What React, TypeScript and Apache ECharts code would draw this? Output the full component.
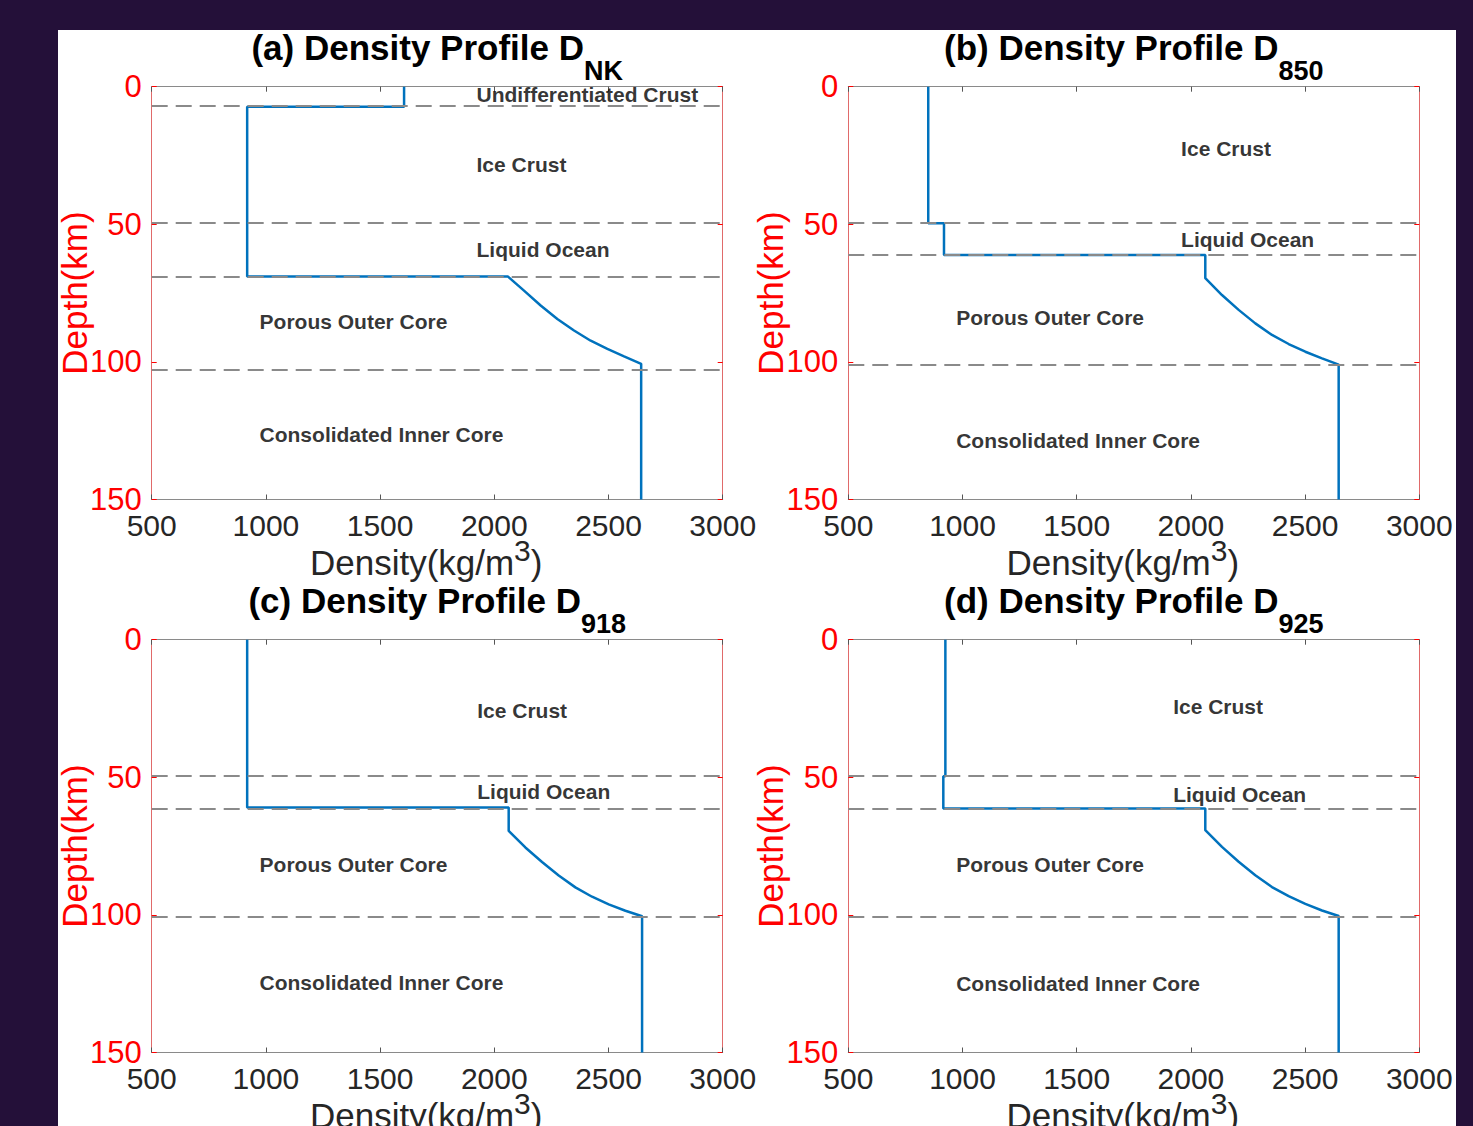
import React, { useEffect, useRef } from "react";
import * as echarts from "echarts";

// ---------- data ----------
const densityMin = 500;
const densityMax = 3000;
const densityStep = 500;
const depthMin = 0;
const depthMax = 150;
const depthStep = 50;

const panelTitles = ["(a) Density Profile D", "(b) Density Profile D", "(c) Density Profile D", "(d) Density Profile D"];
const panelSubscripts = ["NK", "850", "918", "925"];

// (a) D_NK
const depthNK = [0, 7.3, 7.3, 69, 69, 74.1, 79.5, 84.4, 88.6, 92.3, 95.3, 98.0, 100.7, 150];
const densityNK = [1605, 1605, 918, 918, 2060, 2130, 2203, 2276, 2349, 2422, 2495, 2568, 2643, 2643];
const boundariesNK = [7, 49.6, 69.2, 102.8];
const labelsNK = ["Undifferentiated Crust", "Ice Crust", "Liquid Ocean", "Porous Outer Core", "Consolidated Inner Core"];
const labelDensityNK = [1920, 1920, 1920, 970, 970];
const labelDepthNK = [3.0, 28.1, 59.3, 85.2, 126.2];

// (b) D_850
const depth850 = [0, 49.6, 49.6, 61.2, 61.2, 69.6, 75.7, 81.1, 86.0, 90.2, 93.5, 96.3, 98.7, 101.0, 150];
const density850 = [850, 850, 919, 919, 2063, 2063, 2136, 2209, 2282, 2355, 2428, 2501, 2574, 2647, 2647];
const boundaries850 = [49.5, 61.2, 101.1];
const labels850 = ["Ice Crust", "Liquid Ocean", "Porous Outer Core", "Consolidated Inner Core"];
const labelDensity850 = [1955, 1955, 970, 970];
const labelDepth850 = [22.5, 55.6, 83.9, 128.5];

// (c) D_918
const depth918 = [0, 61.0, 61.0, 69.5, 75.5, 80.8, 85.7, 90.0, 93.4, 96.2, 98.5, 100.5, 150];
const density918 = [918, 918, 2063, 2063, 2136, 2209, 2282, 2355, 2428, 2501, 2574, 2647, 2647];
const boundaries918 = [49.4, 61.4, 100.5];
const labels918 = ["Ice Crust", "Liquid Ocean", "Porous Outer Core", "Consolidated Inner Core"];
const labelDensity918 = [1923, 1923, 970, 970];
const labelDepth918 = [25.9, 55.3, 81.8, 124.4];

// (d) D_925
const depth925 = [0, 49.6, 49.6, 61.3, 61.3, 69.2, 75.3, 80.7, 85.6, 89.9, 93.2, 96.0, 98.4, 100.4, 150];
const density925 = [925, 925, 916, 916, 2063, 2063, 2136, 2209, 2282, 2355, 2428, 2501, 2574, 2647, 2647];
const boundaries925 = [49.5, 61.3, 100.5];
const labels925 = ["Ice Crust", "Liquid Ocean", "Porous Outer Core", "Consolidated Inner Core"];
const labelDensity925 = [1920, 1920, 970, 970];
const labelDepth925 = [24.3, 56.2, 81.8, 125.0];

// ---------- layout / style ----------
const FONT = "'Liberation Sans', Arial, Helvetica, sans-serif";
const gridLefts = [151.7, 848.3, 151.7, 848.3];
const gridTops = [86.7, 86.7, 639.7, 639.7];
const GW = 571;
const GH = 412.8;
const BLUE = "#0072BD";
const RED = "#ff0000";
const GRAY = "#8a8a8a";

export default function App() {
  const ref = useRef<HTMLDivElement>(null);

  useEffect(() => {
    if (!ref.current) return;
    const chart = echarts.init(ref.current, null, { renderer: "svg" });

    const panels = [
      { depth: depthNK, density: densityNK, bounds: boundariesNK, labels: labelsNK, lx: labelDensityNK, ly: labelDepthNK },
      { depth: depth850, density: density850, bounds: boundaries850, labels: labels850, lx: labelDensity850, ly: labelDepth850 },
      { depth: depth918, density: density918, bounds: boundaries918, labels: labels918, lx: labelDensity918, ly: labelDepth918 },
      { depth: depth925, density: density925, bounds: boundaries925, labels: labels925, lx: labelDensity925, ly: labelDepth925 },
    ];

    const grids: any[] = [];
    const xAxes: any[] = [];
    const yAxes: any[] = [];
    const series: any[] = [];
    const titles: any[] = [];

    panels.forEach((p, i) => {
      grids.push({
        left: gridLefts[i],
        top: gridTops[i],
        width: GW,
        height: GH,
        containLabel: false,
        outerBoundsMode: "none",
      });

      titles.push({
        text: `{m|${panelTitles[i]}}{s|${panelSubscripts[i]}}`,
        left: gridLefts[i] + GW / 2,
        top: gridTops[i] - 56.5,
        textAlign: "center",
        padding: 0,
        textStyle: {
          rich: {
            m: { fontSize: 35, fontWeight: "bold", fontFamily: FONT, color: "#000", lineHeight: 40, verticalAlign: "top" },
            s: { fontSize: 27, fontWeight: "bold", fontFamily: FONT, color: "#000", lineHeight: 26, verticalAlign: "top", padding: [27, 0, 0, 0] },
          },
        },
      });

      const common = { gridIndex: i, type: "value", splitLine: { show: false } };
      xAxes.push({
        ...common,
        position: "bottom",
        min: densityMin,
        max: densityMax,
        interval: densityStep,
        axisLine: { show: true, onZero: false, lineStyle: { color: GRAY, width: 1 } },
        axisTick: { show: true, inside: true, length: 5, lineStyle: { color: "#555" } },
        axisLabel: { fontSize: 30, color: "#262626", fontFamily: FONT, margin: 11, formatter: (v: number) => String(v) },
        name: "{m|Density(kg/m}{sup|3}{m|)}",
        nameLocation: "middle",
        nameGap: 36,
        nameMoveOverlap: false,
        nameTextStyle: {
          padding: [0, 22, 0, 0],
          fontSize: 35,
          fontFamily: FONT,
          color: "#262626",
          rich: {
            m: { fontSize: 35, fontFamily: FONT, color: "#262626", lineHeight: 44, verticalAlign: "bottom" },
            sup: { fontSize: 30, fontFamily: FONT, color: "#262626", lineHeight: 24, verticalAlign: "top" },
          },
        },
      });
      xAxes.push({
        ...common,
        position: "top",
        min: densityMin,
        max: densityMax,
        interval: densityStep,
        axisLine: { show: true, onZero: false, lineStyle: { color: GRAY, width: 1 } },
        axisTick: { show: true, inside: true, length: 5, lineStyle: { color: "#555" } },
        axisLabel: { show: false },
      });
      yAxes.push({
        ...common,
        position: "left",
        inverse: true,
        min: depthMin,
        max: depthMax,
        interval: depthStep,
        axisLine: { show: true, onZero: false, lineStyle: { color: "#e06a6a", width: 1 } },
        axisTick: { show: true, inside: true, length: 5, lineStyle: { color: RED } },
        axisLabel: { fontSize: 31, color: RED, fontFamily: FONT, margin: 10 },
        name: "Depth(km)",
        nameLocation: "middle",
        nameGap: 60,
        nameMoveOverlap: false,
        nameTextStyle: { fontSize: 35, color: RED, fontFamily: FONT },
      });
      yAxes.push({
        ...common,
        position: "right",
        inverse: true,
        min: depthMin,
        max: depthMax,
        interval: depthStep,
        axisLine: { show: true, onZero: false, lineStyle: { color: "#e06a6a", width: 1 } },
        axisTick: { show: true, inside: true, length: 5, lineStyle: { color: RED } },
        axisLabel: { show: false },
      });

      series.push({
        type: "line",
        xAxisIndex: 2 * i,
        yAxisIndex: 2 * i,
        data: p.density.map((d, k) => [d, p.depth[k]]),
        showSymbol: false,
        symbol: "none",
        lineStyle: { color: BLUE, width: 2.5 },
        z: 3,
        markLine: {
          silent: true,
          symbol: ["none", "none"],
          label: { show: false },
          lineStyle: { type: [16, 8], color: GRAY, width: 2 },
          data: p.bounds.map((b) => ({ yAxis: b })),
        },
      });

      series.push({
        type: "scatter",
        xAxisIndex: 2 * i,
        yAxisIndex: 2 * i,
        symbolSize: 1,
        itemStyle: { color: "rgba(255,255,255,0)" },
        z: 4,
        data: p.labels.map((name, k) => ({ name, value: [p.lx[k], p.ly[k]] })),
        label: {
          show: true,
          position: "right",
          distance: 0,
          formatter: "{b}",
          fontSize: 21,
          fontWeight: "bold",
          fontFamily: FONT,
          color: "#000",
        },
        labelLayout: { hideOverlap: false },
      });
    });

    chart.setOption({
      animation: false,
      backgroundColor: "#241039",
      graphic: [
        { type: "rect", z: -1, shape: { x: 58, y: 30, width: 1398, height: 1096 }, style: { fill: "#ffffff" } },
      ],
      title: titles,
      grid: grids,
      xAxis: xAxes,
      yAxis: yAxes,
      series,
    });

    return () => chart.dispose();
  }, []);

  return <div ref={ref} style={{ position: "absolute", left: 0, top: 0, width: 1473, height: 1126 }} />;
}
